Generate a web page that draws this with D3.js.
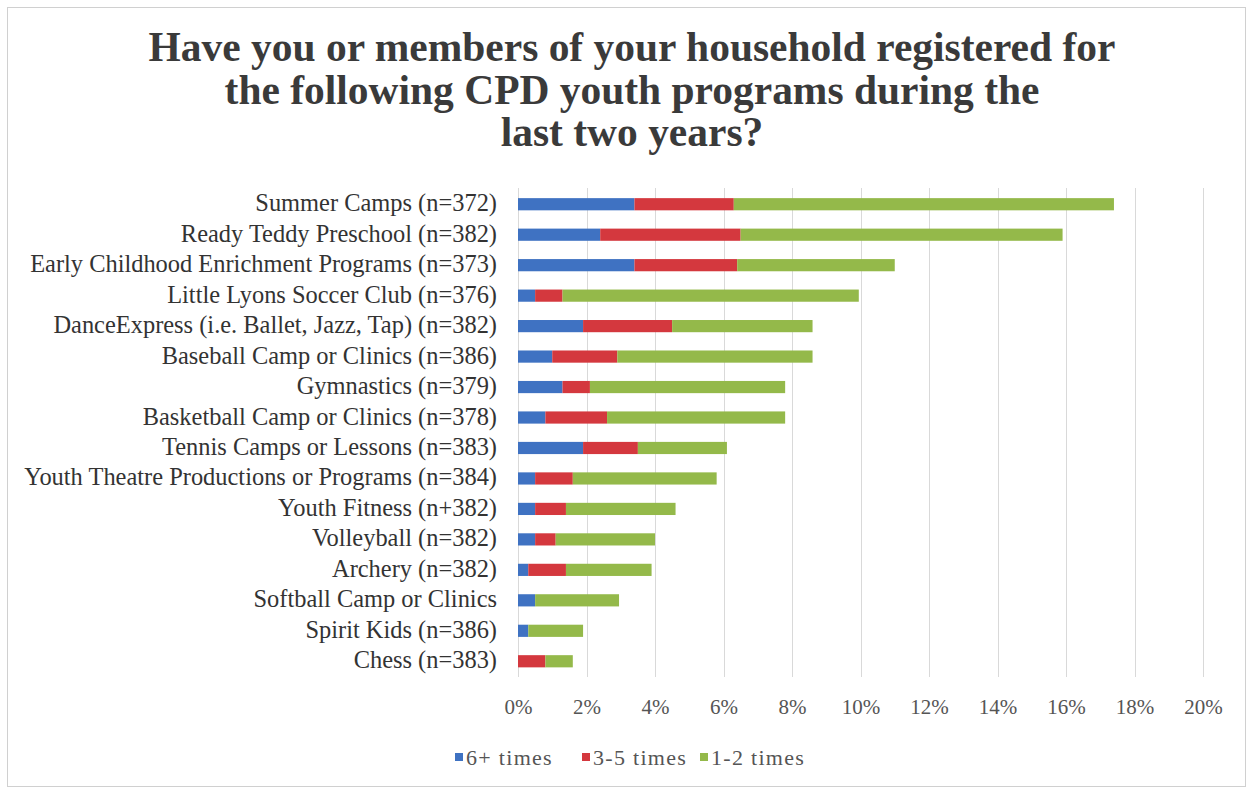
<!DOCTYPE html>
<html><head><meta charset="utf-8">
<script src="https://cdn.jsdelivr.net/npm/d3@7"></script>
<style>body{margin:0;background:#fff;} svg{display:block;}</style>
</head><body>
<svg id="c" width="1254" height="791"></svg>
<script>
const categories = [
  "Summer Camps (n=372)",
  "Ready Teddy Preschool (n=382)",
  "Early Childhood Enrichment Programs (n=373)",
  "Little Lyons Soccer Club (n=376)",
  "DanceExpress (i.e. Ballet, Jazz, Tap) (n=382)",
  "Baseball Camp or Clinics (n=386)",
  "Gymnastics (n=379)",
  "Basketball Camp or Clinics (n=378)",
  "Tennis Camps or Lessons (n=383)",
  "Youth Theatre Productions or Programs (n=384)",
  "Youth Fitness (n+382)",
  "Volleyball (n=382)",
  "Archery (n=382)",
  "Softball Camp or Clinics",
  "Spirit Kids (n=386)",
  "Chess (n=383)"
];
const six = [3.4, 2.4, 3.4, 0.5, 1.9, 1.0, 1.3, 0.8, 1.9, 0.5, 0.5, 0.5, 0.3, 0.5, 0.3, 0.0];
const threeFive = [2.9, 4.1, 3.0, 0.8, 2.6, 1.9, 0.8, 1.8, 1.6, 1.1, 0.9, 0.6, 1.1, 0.0, 0.0, 0.8];
const oneTwo = [11.1, 9.4, 4.6, 8.65, 4.1, 5.7, 5.7, 5.2, 2.6, 4.2, 3.2, 2.9, 2.5, 2.45, 1.6, 0.8];
const seriesNames = ["6+ times", "3-5 times", "1-2 times"];
const colors = ["#3f72c2", "#d4383e", "#94b94a"];
const tickValues = [0, 2, 4, 6, 8, 10, 12, 14, 16, 18, 20];
const titleLines = [
  "Have you or members of your household registered for",
  "the following CPD youth programs during the",
  "last two years?"
];

const svg = d3.select("#c");
const serif = "'Liberation Serif', 'Times New Roman', serif";

// border
svg.append("rect").attr("x", 7.5).attr("y", 7.5).attr("width", 1238).attr("height", 779)
  .attr("fill", "#fff").attr("stroke", "#d0d0d0").attr("stroke-width", 1);

// title
const title = svg.append("g");
const titleYs = [61, 104, 146];
titleLines.forEach((t, i) => {
  title.append("text").attr("x", 632).attr("y", titleYs[i]).attr("text-anchor", "middle")
    .attr("font-family", serif).attr("font-weight", "bold").attr("font-size", 34)
    .attr("fill", "#3a3a3a").text(t);
});
{
  const first = title.select("text").node();
  const w = first.getComputedTextLength();
  const fs = 34 * 967 / w;
  title.selectAll("text").attr("font-size", fs);
}

const x = d3.scaleLinear().domain([0, 20]).range([518, 1203]);
const y = d3.scaleBand().domain(categories).range([189, 676.5]).paddingInner(0.6).paddingOuter(0.3);

// gridlines
svg.append("g").selectAll("line").data(tickValues).join("line")
  .attr("x1", d => Math.round(x(d)) + 0.5).attr("x2", d => Math.round(x(d)) + 0.5)
  .attr("y1", 188).attr("y2", 677)
  .attr("stroke", "#d9d9d9").attr("stroke-width", 1);

// stacked bars
const rows = categories.map((c, i) => ({cat: c, s0: six[i], s1: threeFive[i], s2: oneTwo[i]}));
const stack = d3.stack().keys(["s0", "s1", "s2"])(rows);
const gBars = svg.append("g");
stack.forEach((layer, k) => {
  gBars.append("g").attr("fill", colors[k]).selectAll("rect").data(layer).join("rect")
    .attr("x", d => x(d[0])).attr("width", d => Math.max(0, x(d[1]) - x(d[0])))
    .attr("y", d => y(d.data.cat)).attr("height", y.bandwidth());
});

// category labels
const gLab = svg.append("g");
gLab.selectAll("text").data(categories).join("text")
  .attr("x", 497).attr("y", d => y(d) + y.bandwidth() / 2 + 7)
  .attr("text-anchor", "end").attr("font-family", serif).attr("font-size", 20)
  .attr("fill", "#333").text(d => d);
{
  let maxW = 0;
  gLab.selectAll("text").each(function () { maxW = Math.max(maxW, this.getComputedTextLength()); });
  gLab.selectAll("text").attr("font-size", 20 * 473 / maxW);
}

// x axis tick labels
const axis = d3.axisBottom(x).tickValues(tickValues).tickFormat(d => d + "%").tickSize(0).tickPadding(0);
const gAx = svg.append("g").attr("transform", "translate(0,697)").call(axis);
gAx.select(".domain").remove();
gAx.selectAll("text").attr("font-family", serif).attr("font-size", 21).attr("fill", "#555")
  .attr("dy", "0.8em");

// legend
const legX = [455, 582, 700];
const gLeg = svg.append("g");
seriesNames.forEach((n, i) => {
  gLeg.append("rect").attr("x", legX[i]).attr("y", 753).attr("width", 8).attr("height", 8).attr("fill", colors[i]);
  gLeg.append("text").attr("x", legX[i] + 11).attr("y", 765).attr("font-family", serif)
    .attr("font-size", 22).attr("letter-spacing", 1.3).attr("fill", "#555").text(n);
});
</script>
</body></html>
